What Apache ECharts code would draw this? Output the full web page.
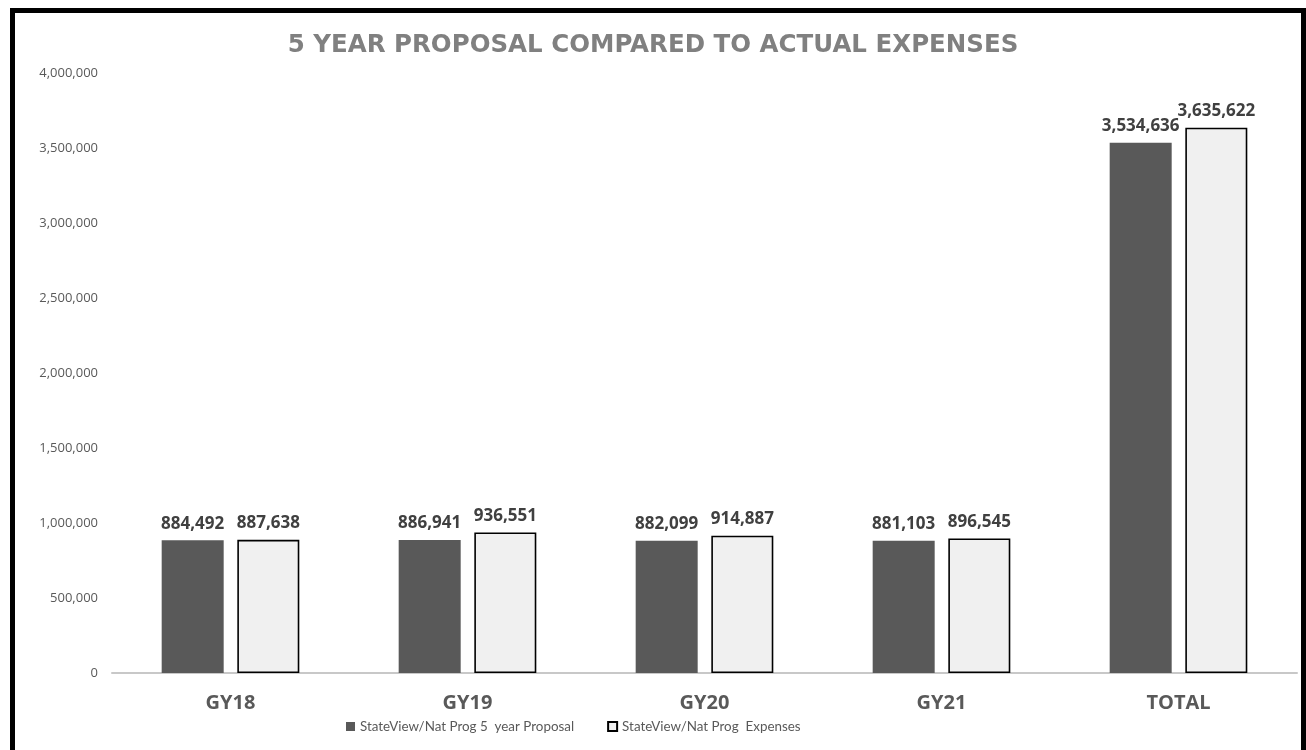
<!DOCTYPE html>
<html>
<head>
<meta charset="utf-8">
<title>5 Year Proposal Compared to Actual Expenses</title>
<script src="https://cdn.jsdelivr.net/npm/echarts@6/dist/echarts.min.js"></script>
<style>
  html, body { margin: 0; padding: 0; background: #ffffff; }
  #chart { position: absolute; left: 0; top: 0; width: 1306px; height: 750px; }
  #frame {
    position: absolute; left: 10px; top: 8px; width: 1286px; height: 760px;
    border: 5px solid #000000; border-bottom: none; pointer-events: none;
  }
</style>
</head>
<body>
<div id="chart"></div>
<div id="frame"></div>
<script>
// Grant years plus the overall total
const categories = ['GY18', 'GY19', 'GY20', 'GY21', 'TOTAL'];
// Amounts from the 5 year proposal
const proposalValues = [884492, 886941, 882099, 881103, 3534636];
// Actual expenses
const expenseValues = [887638, 936551, 914887, 896545, 3635622];
// Value-axis tick labels
const yTicks = ['0', '500,000', '1,000,000', '1,500,000', '2,000,000', '2,500,000', '3,000,000', '3,500,000', '4,000,000'];

const seriesNames = ['StateView/Nat Prog 5  year Proposal', 'StateView/Nat Prog  Expenses'];

const fmt = v => Number(v).toLocaleString('en-US');
const baseFont = '"Open Sans", "Noto Sans", sans-serif';

const chart = echarts.init(document.getElementById('chart'), null, { renderer: 'canvas' });

const valueLabel = {
  show: true,
  position: 'top',
  distance: 8,
  formatter: p => fmt(p.value),
  fontFamily: baseFont,
  fontWeight: 'bold',
  fontSize: 17,
  color: '#404040'
};

chart.setOption({
  animation: false,
  backgroundColor: '#ffffff',
  title: {
    text: '5 YEAR PROPOSAL COMPARED TO ACTUAL EXPENSES',
    left: 'center',
    top: 28,
    textStyle: {
      fontFamily: '"DejaVu Sans", sans-serif',
      fontWeight: 'bold',
      fontSize: 24.5,
      color: '#808080'
    }
  },
  legend: {
    data: seriesNames,
    top: 715,
    left: 341,
    icon: 'rect',
    itemWidth: 9,
    itemHeight: 9,
    itemGap: 33,
    textStyle: {
      fontFamily: 'Lato, "Open Sans", sans-serif',
      fontSize: 13.4,
      color: '#595959'
    }
  },
  grid: { left: 112, right: 9, top: 73, bottom: 77, containLabel: false },
  xAxis: {
    type: 'category',
    data: categories,
    axisLine: { show: true, lineStyle: { color: '#c8c8c8', width: 2 } },
    axisTick: { show: false },
    axisLabel: {
      margin: 20,
      fontFamily: baseFont,
      fontWeight: 'bold',
      fontSize: 20,
      color: '#595959'
    }
  },
  yAxis: {
    type: 'value',
    min: 0,
    max: 4000000,
    interval: 500000,
    splitLine: { show: false },
    axisLine: { show: false },
    axisTick: { show: false },
    axisLabel: {
      margin: 14,
      fontFamily: baseFont,
      fontSize: 13,
      color: '#595959',
      formatter: v => yTicks[Math.round(v / 500000)]
    }
  },
  series: [
    {
      name: seriesNames[0],
      type: 'bar',
      data: proposalValues,
      barWidth: 62,
      barGap: '22%',
      itemStyle: { color: '#595959' },
      label: valueLabel
    },
    {
      name: seriesNames[1],
      type: 'bar',
      data: expenseValues,
      barWidth: 62,
      itemStyle: { color: '#f0f0f0', borderColor: '#000000', borderWidth: 1.6 },
      label: valueLabel
    }
  ]
});
</script>
</body>
</html>
